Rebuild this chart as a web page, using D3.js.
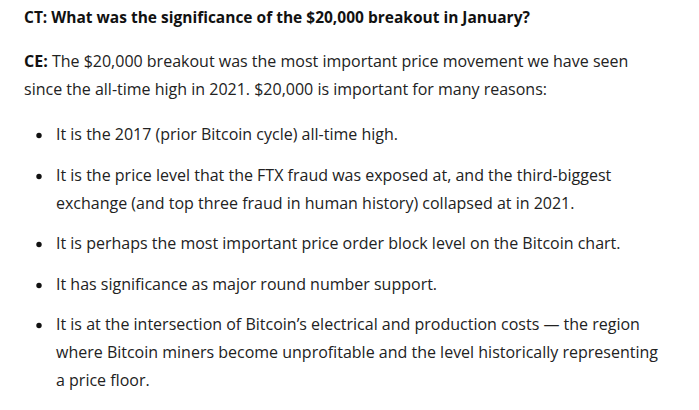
<!DOCTYPE html>
<html>
<head>
  <meta charset="UTF-8">
  <style>
    body { margin: 0; padding: 0; background: #fff; }
    svg { display: block; }
    text { font-family: "Open Sans", sans-serif; font-size: 16px; fill: #222; }
    .bold { font-weight: 700; fill: #111; }
    .heading { font-size: 15.5px; }
  </style>
</head>
<body>
<svg></svg>
<script src="https://d3js.org/d3.v7.min.js"></script>
<script>
  let width = 699, height = 410;

  let heading = "CT: What was the significance of the $20,000 breakout in January?";
  let introLabel = "CE:";
  let introLines = [
    " The $20,000 breakout was the most important price movement we have seen",
    "since the all-time high in 2021. $20,000 is important for many reasons:"
  ];
  let bullets = [
    ["It is the 2017 (prior Bitcoin cycle) all-time high."],
    ["It is the price level that the FTX fraud was exposed at, and the third-biggest",
     "exchange (and top three fraud in human history) collapsed at in 2021."],
    ["It is perhaps the most important price order block level on the Bitcoin chart."],
    ["It has significance as major round number support."],
    ["It is at the intersection of Bitcoin\u2019s electrical and production costs \u2014 the region",
     "where Bitcoin miners become unprofitable and the level historically representing",
     "a price floor."]
  ];
  let bulletBaselines = [140, 181, 249, 290, 330];

  let svg = d3.select("svg").attr("width", width).attr("height", height);

  svg.append("text").attr("class", "bold heading").attr("x", 24).attr("y", 23).text(heading);

  let intro = svg.append("text").attr("x", 24).attr("y", 67).attr("xml:space", "preserve");
  intro.append("tspan").attr("class", "bold").text(introLabel);
  intro.append("tspan").text(introLines[0]);
  svg.append("text").attr("x", 24).attr("y", 95).text(introLines[1]);

  bullets.forEach((lines, i) => {
    let y = bulletBaselines[i];
    svg.append("circle").attr("cx", 39).attr("cy", y - 4.5).attr("r", 2.7).attr("fill", "#111");
    lines.forEach((line, j) => {
      svg.append("text").attr("x", 56).attr("y", y + j * 28).text(line);
    });
  });
</script>
</body>
</html>
